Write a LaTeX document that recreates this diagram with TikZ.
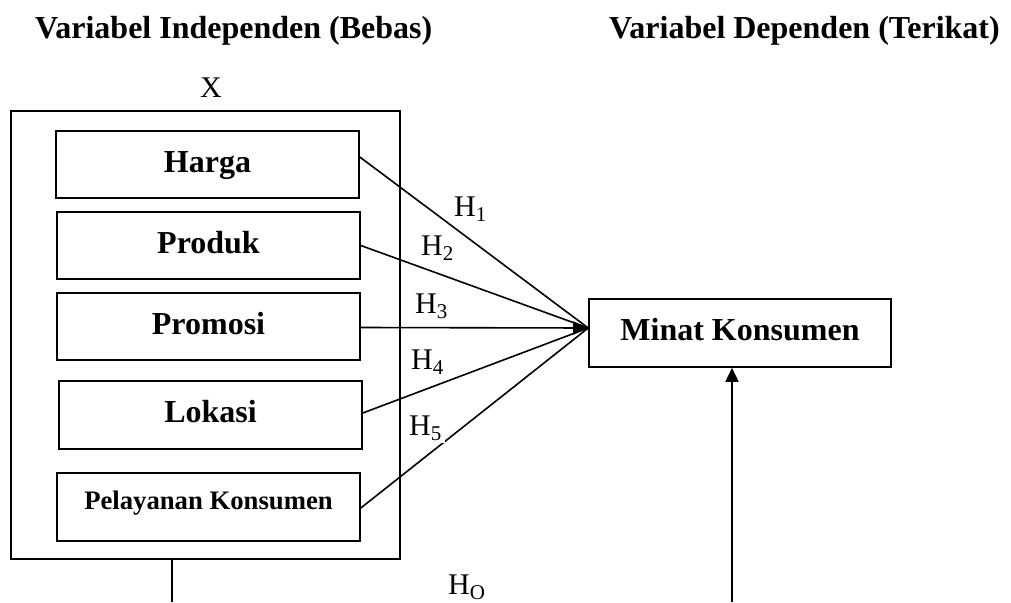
\documentclass[tikz,border=0pt]{standalone}
\usepackage{fontspec}
\setmainfont{Liberation Serif}
\usetikzlibrary{arrows.meta}
\tikzset{
  varbox/.style={draw, line width=1.6pt, minimum width=303pt, minimum height=67pt,
    font=\fontsize{32}{38}\selectfont\bfseries, text height=22pt, text depth=7pt},
  heading/.style={anchor=base west, inner sep=0pt, font=\fontsize{32}{38}\selectfont\bfseries},
  hlabel/.style={anchor=base west, fill=white, inner sep=3pt, font=\fontsize{30}{36}\selectfont},
  link/.style={line width=1.6pt},
}
\begin{document}
\begin{tikzpicture}[x=1pt,y=-1pt]
  \useasboundingbox (0,0) rectangle (1011,602);

  \node[heading] (indep) at (35,39) {Variabel Independen (Bebas)};
  \node[heading] (dep) at (609,39) {Variabel Dependen (Terikat)};
  \node[anchor=base, inner sep=0pt, font=\fontsize{30}{36}\selectfont] (xname) at (211,97) {X};

  % kotak variabel bebas
  \node[draw, line width=1.6pt, minimum width=389pt, minimum height=448pt] (outer) at (205.5,335) {};
  \node[varbox] (harga) at (207.5,164.5) {Harga};
  \node[varbox] (produk) at (208.5,245.5) {Produk};
  \node[varbox] (promosi) at (208.5,326.5) {Promosi};
  \node[varbox, minimum height=68pt] (lokasi) at (210.5,415) {Lokasi};
  \node[varbox, minimum height=68pt, font=\fontsize{26.7}{32}\selectfont\bfseries,
    text height=18pt, text depth=13pt] (layanan) at (208.5,507) {Pelayanan Konsumen};

  % variabel terikat
  \node[varbox, minimum width=302pt, minimum height=68pt] (minat) at (740,333) {Minat Konsumen};

  \draw[link] ([yshift=7.5pt]harga.east) -- ([yshift=5pt]minat.west);
  \draw[link] (produk.east) -- ([yshift=5pt]minat.west);
  \draw[link,-{Triangle[length=15pt,width=13pt]}] ([yshift=-1pt]promosi.east) -- ([yshift=5pt]minat.west);
  \draw[link] ([yshift=2pt]lokasi.east) -- ([yshift=5pt]minat.west);
  \draw[link] ([yshift=-1pt]layanan.east) -- ([yshift=5pt]minat.west);

  \coordinate (xfoot) at (172,602);
  \coordinate (hofoot) at (732,602);
  \draw[link] (xfoot |- outer.south) -- (xfoot);
  \draw[link,-{Triangle[length=14pt,width=13pt]}] (hofoot) -- (hofoot |- minat.south);

  \node[hlabel] (h1) at (451,216) {H\textsubscript{1}};
  \node[hlabel] (h2) at (418,255) {H\textsubscript{2}};
  \node[hlabel] (h3) at (412,313) {H\textsubscript{3}};
  \node[hlabel] (h4) at (408,369) {H\textsubscript{4}};
  \node[hlabel] (h5) at (406,435) {H\textsubscript{5}};
  \node[hlabel, inner sep=0pt] (ho) at (448,594) {H\textsubscript{O}};
\end{tikzpicture}
\end{document}
